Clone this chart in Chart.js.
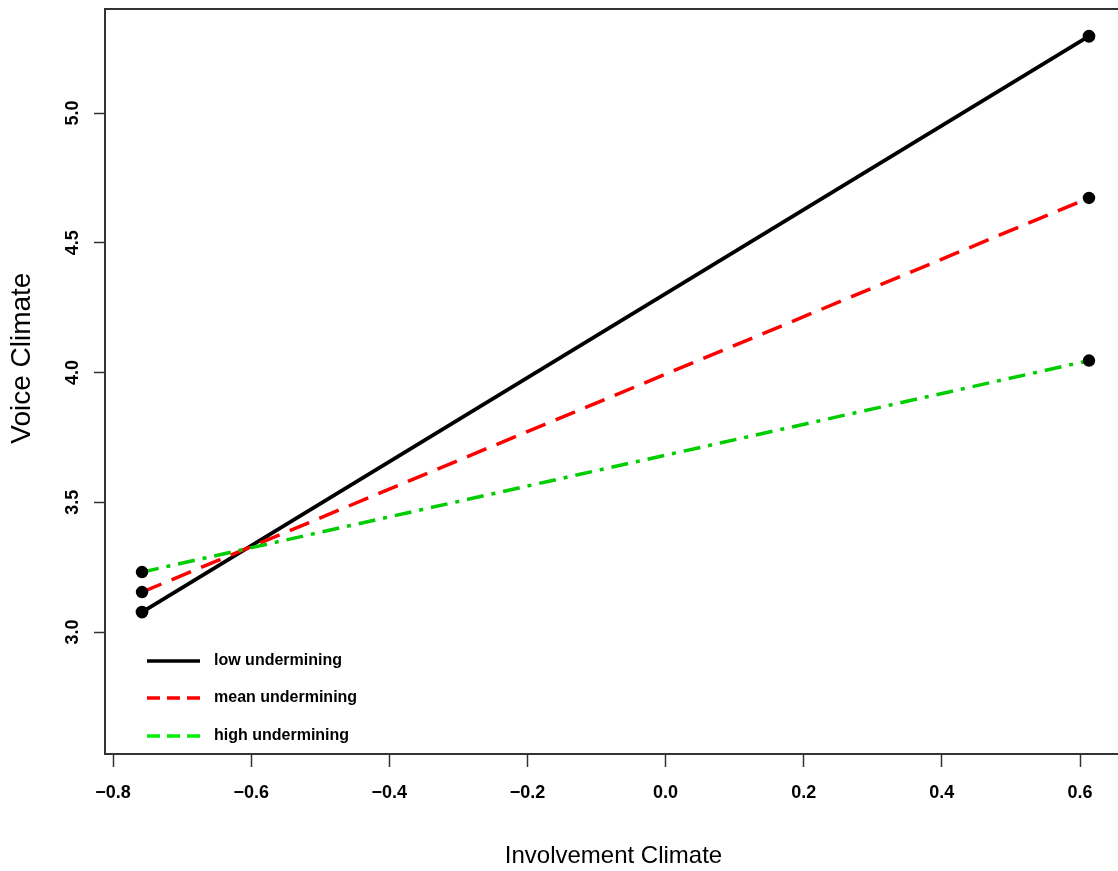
<!DOCTYPE html>
<html>
<head>
<meta charset="utf-8">
<script src="https://cdn.jsdelivr.net/npm/chart.js@4.4.1/dist/chart.umd.min.js"></script>
<style>
  html, body { margin: 0; padding: 0; background: #fff; overflow: hidden; }
  canvas { display: block; }
</style>
</head>
<body>
<canvas id="slopeChart" width="1124" height="871"></canvas>
<script>
// values
const xVals = [-0.758, 0.613];
const lowVals = [3.077, 5.296];
const meanVals = [3.154, 4.673];
const highVals = [3.231, 4.046];
const xTicks = [-0.8, -0.6, -0.4, -0.2, 0.0, 0.2, 0.4, 0.6];
const yTicks = [3.0, 3.5, 4.0, 4.5, 5.0];
const seriesNames = ["low undermining", "mean undermining", "high undermining"];

const toPoints = (ys) => xVals.map((x, i) => ({ x: x, y: ys[i] }));
const minus = (v) => (v < 0 ? "\u2212" : "") + Math.abs(v).toFixed(1);

const AXIS_COLOR = "#333";
const FONT = "'Liberation Sans', Arial, sans-serif";

// box around the plot region, like R's box()
const boxPlugin = {
    id: "box",
    beforeDatasetsDraw(chart) {
        const a = chart.chartArea;
        const ctx = chart.ctx;
        ctx.save();
        ctx.strokeStyle = AXIS_COLOR;
        ctx.lineWidth = 2;
        ctx.strokeRect(a.left, a.top, a.right - a.left, a.bottom - a.top);
        ctx.restore();
    }
};

// legend sits inside the plot, bottom left
const legendPlugin = {
    id: "insideLegend",
    afterDraw(chart) {
        const a = chart.chartArea;
        const ctx = chart.ctx;
        const rows = [
            { color: "#000000", dash: [], y: a.bottom - 93 },
            { color: "#ff0000", dash: [13, 7], y: a.bottom - 56 },
            { color: "#00ee00", dash: [13, 7], y: a.bottom - 18 }
        ];
        ctx.save();
        rows.forEach((r, i) => {
            ctx.beginPath();
            ctx.setLineDash(r.dash);
            ctx.strokeStyle = r.color;
            ctx.lineWidth = 3.5;
            ctx.moveTo(a.left + 42, r.y);
            ctx.lineTo(a.left + 95, r.y);
            ctx.stroke();
            ctx.setLineDash([]);
            ctx.fillStyle = "#000";
            ctx.font = "bold 16px " + FONT;
            ctx.textBaseline = "middle";
            ctx.textAlign = "left";
            ctx.fillText(seriesNames[i], a.left + 109, r.y);
        });
        ctx.restore();
    }
};

const ctx = document.getElementById("slopeChart").getContext("2d");

new Chart(ctx, {
    type: "line",
    data: {
        datasets: [
            {
                label: seriesNames[0],
                data: toPoints(lowVals),
                borderColor: "#000000",
                borderWidth: 3.8,
                pointBackgroundColor: "#000",
                pointBorderColor: "#000",
                order: 2
            },
            {
                label: seriesNames[1],
                data: toPoints(meanVals),
                borderColor: "#ff0000",
                borderWidth: 3.5,
                borderDash: [21, 11],
                pointBackgroundColor: "#000",
                pointBorderColor: "#000",
                order: 1
            },
            {
                label: seriesNames[2],
                data: toPoints(highVals),
                borderColor: "#00cd00",
                borderWidth: 3.5,
                borderDash: [17, 8, 4, 8],
                pointBackgroundColor: "#000",
                pointBorderColor: "#000",
                order: 0
            }
        ]
    },
    options: {
        responsive: false,
        animation: false,
        devicePixelRatio: 1,
        layout: { autoPadding: false, padding: { top: 9, right: 2, left: 0, bottom: 0 } },
        elements: {
            line: { tension: 0, fill: false },
            point: { radius: 4.5, borderWidth: 0 }
        },
        plugins: {
            legend: { display: false },
            tooltip: { enabled: false }
        },
        scales: {
            x: {
                type: "linear",
                min: -0.8116,
                max: 0.6608,
                afterBuildTicks: (s) => { s.ticks = xTicks.map(v => ({ value: v })); },
                afterFit: (s) => { s.height = 117; },
                border: { display: false },
                grid: {
                    drawOnChartArea: false,
                    drawTicks: true,
                    tickLength: 13,
                    tickColor: AXIS_COLOR,
                    tickWidth: 1.5
                },
                ticks: {
                    padding: 15,
                    maxRotation: 0,
                    color: "#000",
                    font: { family: FONT, size: 18, weight: "bold" },
                    callback: (v) => minus(v)
                },
                title: {
                    display: true,
                    text: "Involvement Climate",
                    color: "#000",
                    padding: { top: 0, bottom: 0 },
                    font: { family: FONT, size: 24 }
                }
            },
            y: {
                type: "linear",
                min: 2.530,
                max: 5.401,
                afterBuildTicks: (s) => { s.ticks = yTicks.map(v => ({ value: v })); },
                afterFit: (s) => {
                    s.width = 105;
                    s.paddingTop = 0;
                    s.paddingBottom = 0;
                },
                border: { display: false },
                grid: {
                    drawOnChartArea: false,
                    drawTicks: true,
                    tickLength: 11,
                    tickColor: AXIS_COLOR,
                    tickWidth: 1.5
                },
                ticks: {
                    padding: 8,
                    minRotation: 90,
                    maxRotation: 90,
                    crossAlign: "center",
                    color: "#000",
                    font: { family: FONT, size: 18, weight: "bold" },
                    callback: (v) => v.toFixed(1)
                },
                title: {
                    display: true,
                    text: "      Voice Climate",
                    color: "#000",
                    padding: { top: 5, bottom: 0 },
                    font: { family: FONT, size: 28 }
                }
            }
        }
    },
    plugins: [boxPlugin, legendPlugin]
});
</script>
</body>
</html>
